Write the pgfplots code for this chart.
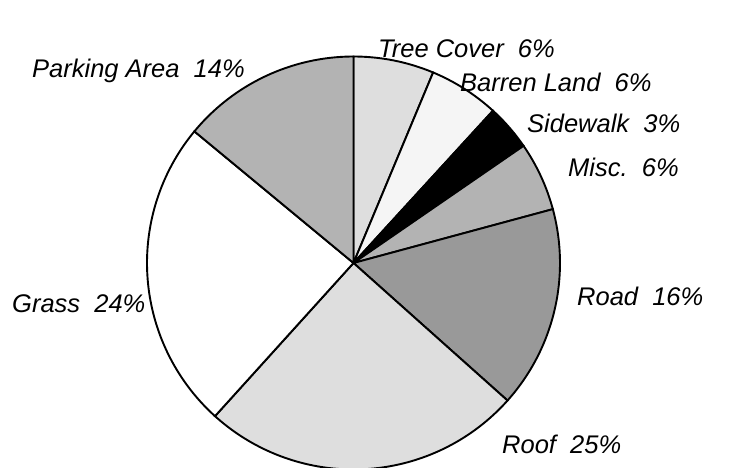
\documentclass[border=0pt]{standalone}
\usepackage{pgfplots}
\pgfplotsset{compat=1.18}
\usepgfplotslibrary{polar}
\usepackage{fontspec}
\setmainfont{Liberation Sans}
\definecolor{lg}{HTML}{DEDEDE}
\definecolor{vlg}{HTML}{F5F5F5}
\definecolor{mg}{HTML}{B3B3B3}
\definecolor{dg}{HTML}{999999}
\begin{document}
\begin{tikzpicture}
\useasboundingbox (0,0) rectangle (748bp,468bp);
% slice shares (percent), clockwise from 12 o'clock:
% Tree 6.3, Barren 5.5, Sidewalk 3.6, Misc 5.4, Road 15.8, Roof 25.1, Grass 24.3, Parking 14.0
\begin{polaraxis}[at={(353.5bp,205bp)}, anchor=center, scale only axis,
  width=413bp, height=413bp, ymin=0, ymax=1, hide axis, clip=false]
\addplot[draw=black, line width=1.9bp, fill=lg,  domain=67.32:90,      samples=40] {1} -- (axis cs:0,0) -- cycle;
\addplot[draw=black, line width=1.9bp, fill=vlg, domain=47.52:67.32,   samples=40] {1} -- (axis cs:0,0) -- cycle;
\addplot[draw=black, line width=1.9bp, fill=black, domain=34.56:47.52, samples=40] {1} -- (axis cs:0,0) -- cycle;
\addplot[draw=black, line width=1.9bp, fill=mg,  domain=15.12:34.56,   samples=40] {1} -- (axis cs:0,0) -- cycle;
\addplot[draw=black, line width=1.9bp, fill=dg,  domain=-41.76:15.12,  samples=60] {1} -- (axis cs:0,0) -- cycle;
\addplot[draw=black, line width=1.9bp, fill=lg,  domain=-132.12:-41.76, samples=80] {1} -- (axis cs:0,0) -- cycle;
\addplot[draw=black, line width=1.9bp, fill=white, domain=-219.6:-132.12, samples=80] {1} -- (axis cs:0,0) -- cycle;
\addplot[draw=black, line width=1.9bp, fill=mg,  domain=-270:-219.6,   samples=60] {1} -- (axis cs:0,0) -- cycle;
\end{polaraxis}
\begin{scope}[every node/.style={inner sep=0pt, anchor=base west, font=\fontsize{25.5bp}{28bp}\selectfont\itshape}]
\node at (378bp,410bp) {Tree Cover\ \ 6\%};
\node at (460bp,376bp) {Barren Land\ \ 6\%};
\node at (527bp,335bp) {Sidewalk\ \ 3\%};
\node at (568bp,291bp) {Misc.\ \ 6\%};
\node at (577bp,162bp) {Road\ \ 16\%};
\node at (502bp,15bp) {Roof\ \ 25\%};
\node at (12bp,155bp) {Grass\ \ 24\%};
\node at (32bp,390bp) {Parking Area\ \ 14\%};
\end{scope}
\end{tikzpicture}
\end{document}
